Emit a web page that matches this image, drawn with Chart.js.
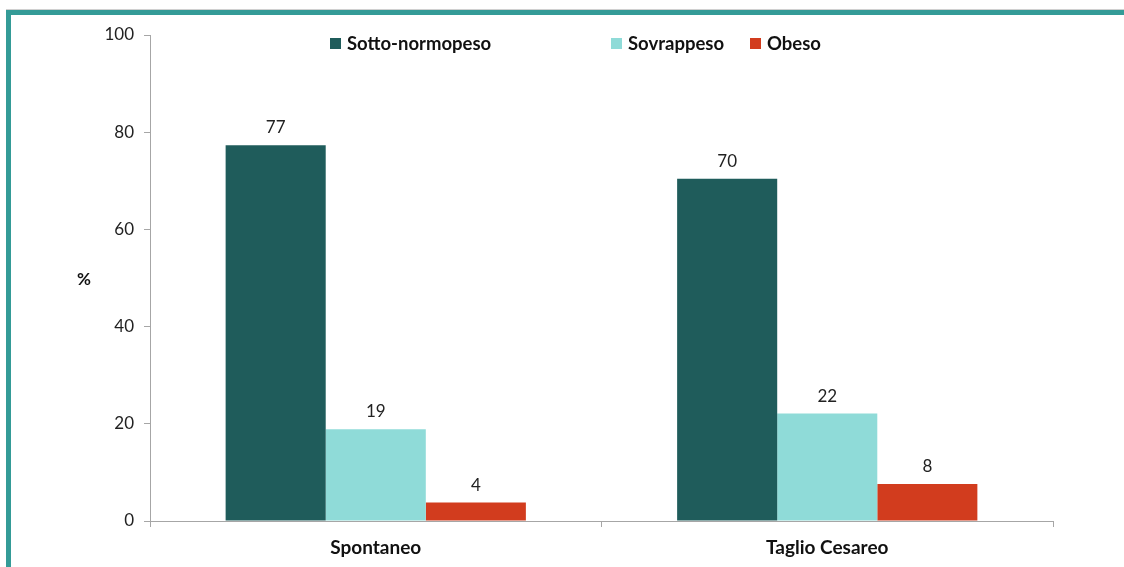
<!DOCTYPE html>
<html>
<head>
<meta charset="utf-8">
<script src="https://cdn.jsdelivr.net/npm/chart.js@4"></script>
<style>
  html, body { margin: 0; padding: 0; background: #fff; }
  #wrap { position: relative; width: 1124px; height: 567px; overflow: hidden; font-family: Lato, sans-serif; }
  #frame { position: absolute; left: 6px; top: 10px; right: -10px; bottom: -10px;
           border-top: 5px solid #349b97; border-left: 5px solid #349b97; }
  #topline { position: absolute; left: 6px; top: 9px; right: 0; height: 1px; background: #d0d0d0; }
  #chart { position: absolute; left: 0; top: 0; }
  .leg { position: absolute; top: 32px; font-weight: bold; font-size: 18.5px; color: #111; white-space: nowrap; }
  .leg i { display: inline-block; width: 11px; height: 11px; margin-right: 6px; vertical-align: 1px; }
  #ytitle { position: absolute; left: 77px; top: 268px; font-weight: bold; font-size: 17px; color: #111; }
</style>
</head>
<body>
<div id="wrap">
  <canvas id="chart" width="1124" height="567"></canvas>
  <div id="topline"></div>
  <div id="frame"></div>
  <div id="legend"></div>
  <div id="ytitle">%</div>
</div>
<script>
const categories = ['Spontaneo', 'Taglio Cesareo'];
const seriesNames = ['Sotto-normopeso', 'Sovrappeso', 'Obeso'];
const sottoNormopeso = [77.3, 70.4];
const sovrappeso = [18.9, 22.1];
const obeso = [3.8, 7.6];
const yTicks = [0, 20, 40, 60, 80, 100];

const colors = ['#1f5c5b', '#8fdbd8', '#d23c1e'];
const legendX = [330, 611, 750];

const legendBox = document.getElementById('legend');
seriesNames.forEach((name, i) => {
  const el = document.createElement('div');
  el.className = 'leg';
  el.style.left = legendX[i] + 'px';
  el.innerHTML = `<i style="background:${colors[i]}"></i>${name}`;
  legendBox.appendChild(el);
});

const valueLabels = {
  id: 'valueLabels',
  afterDatasetsDraw(chart) {
    const ctx = chart.ctx;
    ctx.save();
    ctx.font = '17px Lato';
    ctx.fillStyle = '#222';
    ctx.textAlign = 'center';
    ctx.textBaseline = 'bottom';
    chart.data.datasets.forEach((ds, i) => {
      chart.getDatasetMeta(i).data.forEach((bar, j) => {
        ctx.fillText(Math.round(ds.data[j]), bar.x, bar.y - 9);
      });
    });
    ctx.restore();
  }
};

new Chart(document.getElementById('chart'), {
  type: 'bar',
  data: {
    labels: categories,
    datasets: [
      { label: seriesNames[0], data: sottoNormopeso, backgroundColor: colors[0] },
      { label: seriesNames[1], data: sovrappeso, backgroundColor: colors[1] },
      { label: seriesNames[2], data: obeso, backgroundColor: colors[2] }
    ]
  },
  options: {
    responsive: false,
    animation: false,
    layout: { padding: { left: 0, right: 71, top: 35, bottom: 0 } },
    datasets: { bar: { categoryPercentage: 0.665, barPercentage: 1 } },
    plugins: { legend: { display: false }, tooltip: { enabled: false } },
    scales: {
      x: {
        grid: { display: true, drawOnChartArea: false, offset: true, color: '#a6a6a6', tickLength: 6 },
        border: { color: '#a6a6a6' },
        ticks: { color: '#111', font: { family: 'Lato', size: 19, weight: 'bold' }, padding: 9 },
        afterFit: (scale) => { scale.height = 46; }
      },
      y: {
        min: 0,
        max: 100,
        afterBuildTicks: (scale) => { scale.ticks = yTicks.map(v => ({ value: v })); },
        grid: { display: true, drawOnChartArea: false, color: '#a6a6a6', tickLength: 6 },
        border: { color: '#a6a6a6' },
        ticks: { color: '#222', font: { family: 'Lato', size: 17 }, padding: 10 },
        afterFit: (scale) => { scale.width = 150; }
      }
    }
  },
  plugins: [valueLabels]
});
</script>
</body>
</html>
